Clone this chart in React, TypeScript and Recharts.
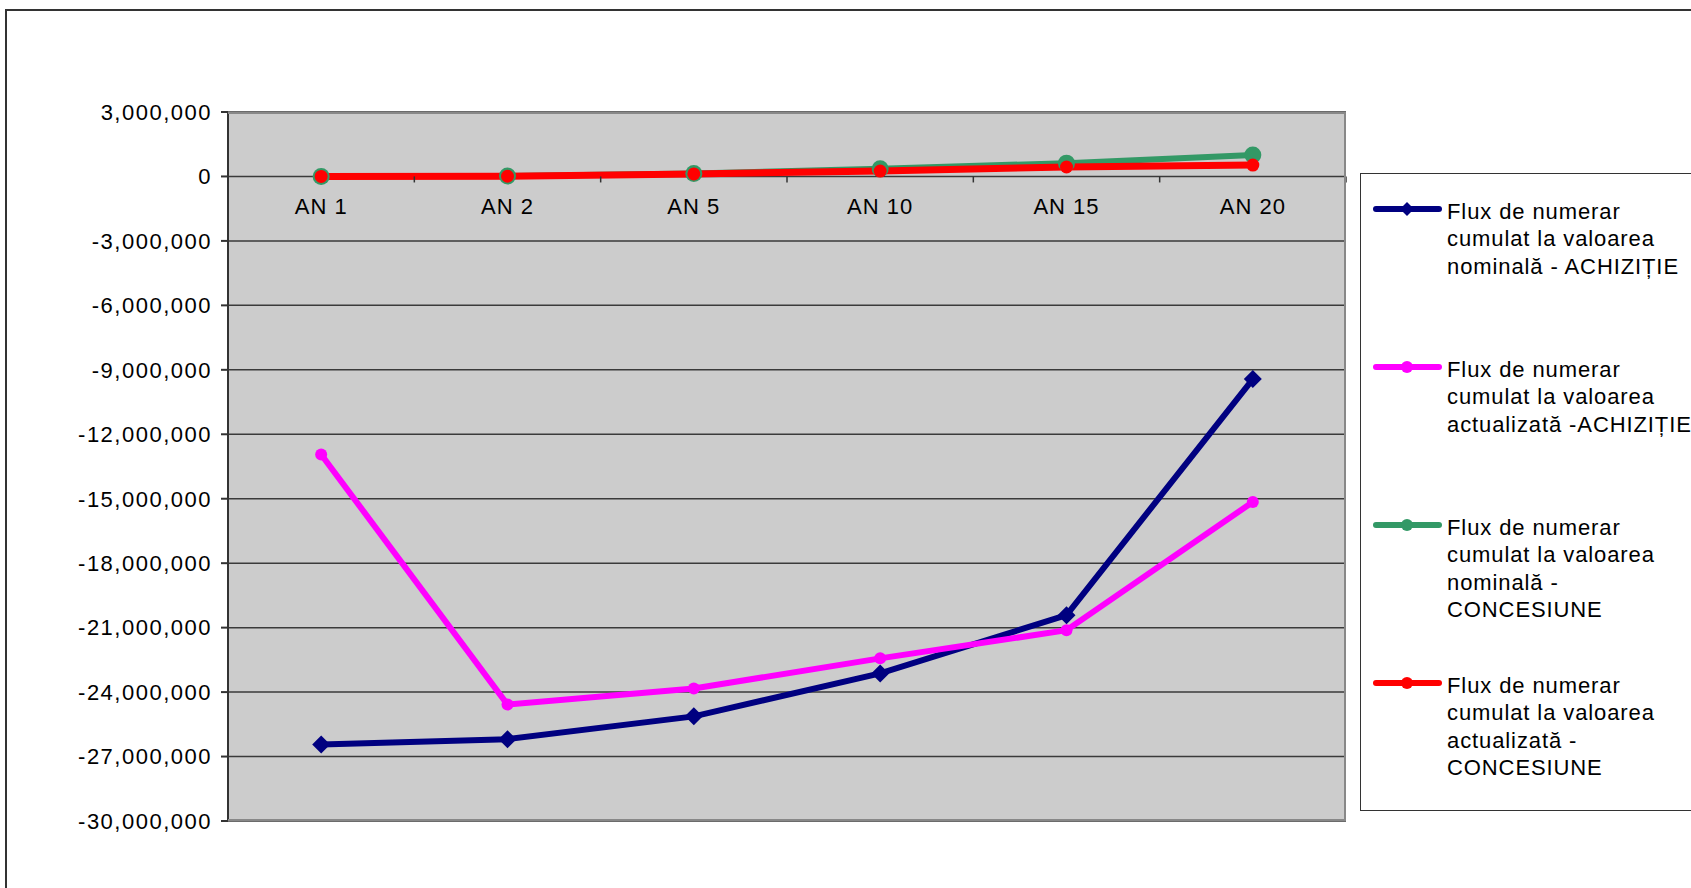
import React from "react";
import {
  LineChart,
  Line,
  XAxis,
  YAxis,
  CartesianGrid,
} from "recharts";

const years = ["AN 1", "AN 2", "AN 5", "AN 10", "AN 15", "AN 20"];

const nominalAchizitie = [-26440000, -26190000, -25130000, -23130000, -20420000, -9430000];
const actualizataAchizitie = [-12940000, -24580000, -23830000, -22430000, -21120000, -15150000];
const nominalConcesiune = [0, 20000, 140000, 360000, 620000, 1000000];
const actualizataConcesiune = [0, 10000, 120000, 250000, 440000, 530000];

const yTicks = [3000000, 0, -3000000, -6000000, -9000000, -12000000, -15000000, -18000000, -21000000, -24000000, -27000000, -30000000];

const series = [
  {
    key: "nomAch",
    color: "#000080",
    shape: "diamond",
    lines: ["Flux de numerar", "cumulat la valoarea", "nominală - ACHIZIȚIE"],
  },
  {
    key: "actAch",
    color: "#FF00FF",
    shape: "circle",
    lines: ["Flux de numerar", "cumulat la valoarea", "actualizată -ACHIZIȚIE"],
  },
  {
    key: "nomCon",
    color: "#339966",
    shape: "circle",
    lines: ["Flux de numerar", "cumulat la valoarea", "nominală -", "CONCESIUNE"],
  },
  {
    key: "actCon",
    color: "#FF0000",
    shape: "circle",
    lines: ["Flux de numerar", "cumulat la valoarea", "actualizată -", "CONCESIUNE"],
  },
];

const data = years.map((name, i) => ({
  name,
  nomAch: nominalAchizitie[i],
  actAch: actualizataAchizitie[i],
  nomCon: nominalConcesiune[i],
  actCon: actualizataConcesiune[i],
}));

// layout
const W = 1691;
const H = 888;
const plotLeft = 228;
const plotTop = 112;
const plotRight = 1346;
const plotBottom = 821;
const plotW = plotRight - plotLeft;
const plotH = plotBottom - plotTop;
const yMax = 3000000;
const yMin = -30000000;
const zeroY = plotTop + (plotH * yMax) / (yMax - yMin);
const band = plotW / years.length;

const font = "'Liberation Sans', Arial, sans-serif";

const fmt = (v: number) => v.toLocaleString("en-US");

const Diamond = (props: any) => {
  const { cx, cy, fill, r = 8 } = props;
  if (cx == null || cy == null) return null;
  return (
    <path
      d={`M${cx},${cy - r} L${cx + r},${cy} L${cx},${cy + r} L${cx - r},${cy} Z`}
      fill={fill}
    />
  );
};

const CategoryTick = (props: any) => {
  const { x, payload, index } = props;
  const last = index === years.length - 1;
  return (
    <g>
      <line x1={x - band / 2} x2={x - band / 2} y1={zeroY} y2={zeroY + 6} stroke="#333" strokeWidth={1.5} />
      {last && (
        <line x1={x + band / 2} x2={x + band / 2} y1={zeroY} y2={zeroY + 6} stroke="#333" strokeWidth={1.5} />
      )}
      <text
        x={x}
        y={zeroY + 30}
        dy="0.355em"
        textAnchor="middle"
        fontSize={22}
        fontFamily={font}
        letterSpacing={1}
        fill="#000"
      >
        {payload.value}
      </text>
    </g>
  );
};

const LegendBox = () => (
  <div
    style={{
      position: "absolute",
      left: 1360,
      top: 173,
      width: 400,
      height: 638,
      border: "1.5px solid #333",
      background: "#fff",
      boxSizing: "border-box",
    }}
  >
    <svg width={400} height={638} style={{ position: "absolute", left: -1.5, top: -1.5 }}>
      {series.map((s, i) => {
        const top = 38 + i * 158;
        return (
          <g key={s.key}>
            <line x1={16} x2={79} y1={top - 2} y2={top - 2} stroke={s.color} strokeWidth={6} strokeLinecap="round" />
            {s.shape === "diamond" ? (
              <Diamond cx={47} cy={top - 2} r={7} fill={s.color} />
            ) : (
              <circle cx={47} cy={top - 2} r={6} fill={s.color} />
            )}
            {s.lines.map((t, j) => (
              <text
                key={j}
                x={87}
                y={top + j * 27.5}
                dy="0.355em"
                fontSize={22}
                fontFamily={font}
                letterSpacing={0.9}
                fill="#000"
              >
                {t}
              </text>
            ))}
          </g>
        );
      })}
    </svg>
  </div>
);

export default function App() {
  return (
    <div
      style={{
        position: "fixed",
        left: 0,
        top: 0,
        width: W,
        height: H,
        overflow: "hidden",
        background: "#fff",
        fontFamily: font,
      }}
    >
      <div
        style={{
          position: "absolute",
          left: 5,
          top: 9,
          width: 1800,
          height: 1000,
          border: "2px solid #333",
        }}
      />
      <div
        style={{
          position: "absolute",
          left: plotLeft,
          top: plotTop,
          width: plotW,
          height: plotH,
          background: "#cccccc",
        }}
      />
      <div style={{ position: "absolute", left: 0, top: 0 }}>
        <LineChart
          width={W}
          height={H}
          data={data}
          margin={{ top: plotTop, right: W - plotRight, bottom: H - plotBottom - 1, left: plotLeft - 100 }}
        >
          <CartesianGrid vertical={false} stroke="#3a3a3a" strokeWidth={1.5} />
          <XAxis
            dataKey="name"
            scale="band"
            height={1}
            axisLine={false}
            tickLine={false}
            tick={<CategoryTick />}
            interval={0}
          />
          <YAxis
            width={100}
            domain={[yMin, yMax]}
            ticks={yTicks}
            interval={0}
            tickFormatter={fmt}
            stroke="#333"
            strokeWidth={2}
            tickSize={7}
            tickMargin={9}
            tick={{ fontSize: 22, fill: "#000", fontFamily: font, letterSpacing: 1.5 }}
          />
          <Line
            dataKey="nomAch"
            stroke="#000080"
            strokeWidth={6}
            isAnimationActive={false}
            dot={(p: any) => <Diamond key={p.key} cx={p.cx} cy={p.cy} r={9} fill="#000080" />}
          />
          <Line
            dataKey="actAch"
            stroke="#FF00FF"
            strokeWidth={6}
            isAnimationActive={false}
            dot={{ r: 6, fill: "#FF00FF", stroke: "none" }}
          />
          <Line
            dataKey="nomCon"
            stroke="#339966"
            strokeWidth={6}
            isAnimationActive={false}
            dot={{ r: 8.5, fill: "#339966", stroke: "none" }}
          />
          <Line
            dataKey="actCon"
            stroke="#FF0000"
            strokeWidth={7}
            isAnimationActive={false}
            dot={{ r: 6.5, fill: "#FF0000", stroke: "none" }}
          />
        </LineChart>
      </div>
      <div
        style={{
          position: "absolute",
          left: plotLeft,
          top: plotTop,
          width: plotW,
          height: plotH,
          borderTop: "2px solid #888",
          borderRight: "2px solid #888",
          borderBottom: "2px solid #888",
          boxSizing: "border-box",
          pointerEvents: "none",
        }}
      />
      <LegendBox />
    </div>
  );
}
